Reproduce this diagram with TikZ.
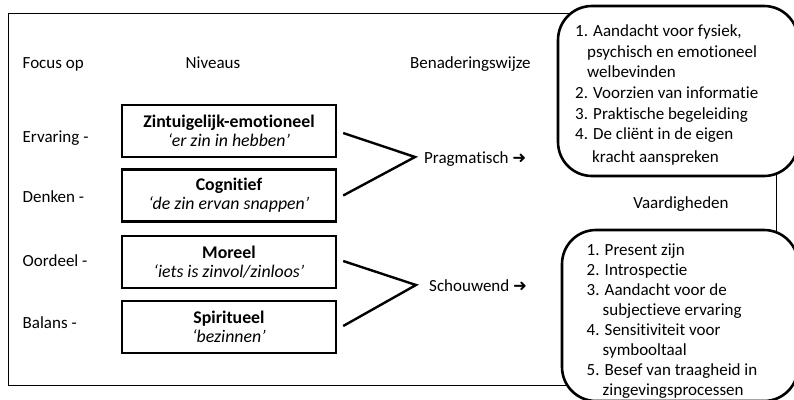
\documentclass[tikz,border=0pt]{standalone}
\usepackage{fontspec}
\setmainfont{Carlito}[Ligatures=NoCommon,Contextuals=NoAlternate]
\newfontfamily\arrowfont{DejaVu Sans}
\begin{document}
\begin{tikzpicture}[x=1pt,y=-1pt,
  font=\fontsize{17}{20.7}\selectfont,
  lvl/.style={draw, line width=2.4pt, minimum width=214pt, minimum height=52pt, inner sep=0pt, align=center, font=\fontsize{17.8}{19.3}\selectfont},
  rbox/.style={draw, line width=2.6pt, rounded corners=34pt, fill=white, inner sep=0pt},
  lbl/.style={anchor=base west, inner sep=0pt},
  conn/.style={line width=2.4pt},
  frame/.style={line width=1pt},
  listtext/.style={anchor=base west, inner sep=0pt}]
\useasboundingbox (0,0) rectangle (794,399);
\clip (0,0) rectangle (794,399);
\fill[white] (0,0) rectangle (794,399);
% outer frame
\draw[frame] (8,13) rectangle (776,385);
% column heads
\node[lbl] (focus) at (22.5,68.5) {Focus op};
\node[lbl] (niv) at (185.5,68.5) {Niveaus};
\node[lbl] (ben) at (410,68.5) {Benaderingswijze};
% focus labels
\node[lbl] (erv) at (22.5,142.5) {Ervaring -};
\node[lbl] (denk) at (22.5,202) {Denken -};
\node[lbl] (oord) at (22.5,266) {Oordeel -};
\node[lbl] (bal) at (22.5,328) {Balans -};
% levels
\node[lvl] (zin) at (229,131) {\textbf{Zintuigelijk-emotioneel}\\\textit{‘er zin in hebben’}};
\node[lvl] (cog) at (229,195.5) {\textbf{Cognitief}\\\textit{‘de zin ervan snappen’}};
\node[lvl] (mor) at (229,262) {\textbf{Moreel}\\\textit{‘iets is zinvol/zinloos’}};
\node[lvl] (spi) at (229,327) {\textbf{Spiritueel}\\\textit{‘bezinnen’}};
% approaches
\coordinate (pa) at (415,157);
\coordinate (sa) at (416,285);
\draw[conn] ([xshift=6pt,yshift=-2pt]zin.east) -- (pa) -- ([xshift=6pt]cog.east);
\draw[conn] ([xshift=6pt,yshift=1pt]mor.east) -- (sa) -- ([xshift=6pt,yshift=1pt]spi.east);
\node[lbl] (prag) at (424,163) {Pragmatisch {\arrowfont\fontsize{16.5}{17}\selectfont ➜}};
\node[lbl] (schouw) at (429,291) {Schouwend {\arrowfont\fontsize{16.5}{17}\selectfont ➜}};
% skill boxes
\node[rbox, minimum width=240pt, minimum height=170pt] (ra) at (678,91) {};
\node[rbox, minimum width=236pt, minimum height=171pt] (rb) at (680,315.5) {};
\node[anchor=base, inner sep=0pt] (vaard) at (681,208.3) {Vaardigheden};
\node[listtext] (lista) at (575,162) {\begin{tabular}[b]{@{}l@{}}
1. Aandacht voor fysiek,\\
\hspace*{12pt}psychisch en emotioneel\\
\hspace*{12pt}welbevinden\\
2. Voorzien van informatie\\
3. Praktische begeleiding\\
4. De cliënt in de eigen\\[1.5pt]
\hspace*{17pt}kracht aanspreken
\end{tabular}};
\node[listtext, font=\fontsize{17}{20}\selectfont] (listb) at (586.5,395) {\begin{tabular}[b]{@{}l@{}}
1. Present zijn\\
2. Introspectie\\
3. Aandacht voor de\\
\hspace*{16pt}subjectieve ervaring\\
4. Sensitiviteit voor\\
\hspace*{16pt}symbooltaal\\
5. Besef van traagheid in\\
\hspace*{16pt}zingevingsprocessen
\end{tabular}};
\end{tikzpicture}
\end{document}
